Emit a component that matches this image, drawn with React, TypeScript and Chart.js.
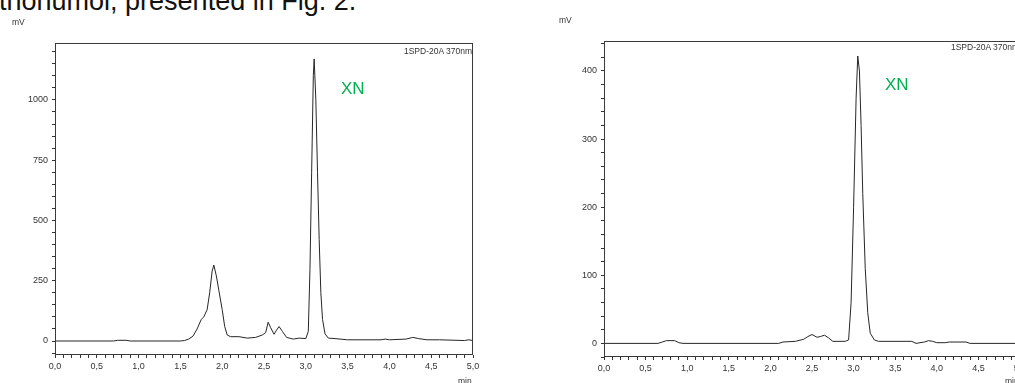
import React, { useEffect, useRef } from 'react';
import { Chart, registerables } from 'chart.js';

Chart.register(...registerables);

// ---- Data ----
const leftTimes = [
  0.0, 0.7, 0.75, 0.85, 0.9, 1.5, 1.55, 1.6, 1.65, 1.7, 1.75, 1.78, 1.82, 1.85, 1.88, 1.9,
  1.93, 1.96, 2.0, 2.03, 2.06, 2.1, 2.2, 2.3, 2.4, 2.48, 2.52, 2.55, 2.58, 2.62, 2.65, 2.68,
  2.72, 2.77, 2.85, 2.92, 3.0, 3.03, 3.05, 3.07, 3.09, 3.1, 3.12, 3.14, 3.16, 3.18, 3.2,
  3.23, 3.27, 3.35, 3.5, 3.9, 3.95, 4.0, 4.2, 4.28, 4.35, 4.45, 4.6, 4.9, 4.95, 5.0,
];
const leftSignal = [
  0, 0, 3, 3, 0, 0, 2, 8, 20, 50, 90, 100, 130, 200, 290, 315,
  270, 210, 130, 60, 25, 18, 18, 12, 15, 25, 35, 78, 55, 28, 45, 60,
  40, 15, 8, 12, 10, 40, 300, 700, 1100, 1170, 1000, 700, 420, 200, 90,
  30, 12, 10, 5, 5, 8, 5, 8, 15, 10, 5, 5, 2, 5, 2,
];

const rightTimes = [
  0.0, 0.65, 0.7, 0.75, 0.85, 0.9, 0.95, 2.1, 2.15, 2.3, 2.4, 2.45, 2.5, 2.56, 2.6, 2.65,
  2.7, 2.75, 2.9, 2.94, 2.97, 3.0, 3.03, 3.05, 3.07, 3.09, 3.11, 3.14, 3.17, 3.2, 3.25,
  3.3, 3.7, 3.75, 3.85, 3.9, 3.95, 4.0, 4.1, 4.15, 4.35, 4.4, 5.0, 5.05,
];
const rightSignal = [
  0, 0, 2, 4, 4, 1, 0, 0, 2, 3, 6, 10, 13, 9, 10, 12,
  8, 3, 3, 5, 60, 200, 360, 422, 400, 320, 220, 110, 45, 15, 5,
  3, 3, 0, 2, 4, 3, 1, 1, 2, 2, 0, 0, 0,
];

const leftYLabels = [0, 250, 500, 750, 1000];
const rightYLabels = [0, 100, 200, 300, 400];
const xTickLabels = ['0,0', '0,5', '1,0', '1,5', '2,0', '2,5', '3,0', '3,5', '4,0', '4,5', '5,0'];
const detectorLabel = '1SPD-20A 370nm';
const peakLabel = 'XN';
const yUnit = 'mV';
const xUnit = 'min';
const captionFragment = 'thohumol, presented in Fig. 2.';

const TICK_FONT = { family: 'Liberation Sans, Arial, sans-serif', size: 9 };
const INK = '#333';

const framePlugin = {
  id: 'frame',
  afterDatasetsDraw(chart: any) {
    const { ctx, chartArea } = chart;
    const l = Math.round(chartArea.left) + 0.5;
    const t = Math.round(chartArea.top) + 0.5;
    const r = Math.round(chartArea.right) - 0.5;
    const b = Math.round(chartArea.bottom) - 0.5;
    ctx.save();
    ctx.strokeStyle = '#3a3a3a';
    ctx.lineWidth = 1;
    ctx.strokeRect(l, t, r - l, b - t);
    ctx.restore();
  },
};

type PanelProps = {
  left: number;
  width: number;
  times: number[];
  values: number[];
  yMin: number;
  yMax: number;
  yStep: number;
  yLabels: number[];
  axisWidth: number;
  padTop: number;
  padRight: number;
  xAxisHeight: number;
};

function Panel(p: PanelProps) {
  const ref = useRef<HTMLCanvasElement | null>(null);
  useEffect(() => {
    if (!ref.current) return;
    const pts = p.times.map((t, i) => ({ x: t, y: p.values[i] }));
    const chart = new Chart(ref.current, {
      type: 'line',
      data: {
        datasets: [
          {
            data: pts,
            borderColor: '#262626',
            borderWidth: 1,
            pointRadius: 0,
            tension: 0,
            fill: false,
          },
        ],
      },
      options: {
        animation: false,
        responsive: false,
        events: [],
        layout: { padding: { top: p.padTop, right: p.padRight, left: 0, bottom: 0 } },
        plugins: { legend: { display: false }, tooltip: { enabled: false }, title: { display: false } },
        scales: {
          x: {
            type: 'linear',
            min: 0,
            max: 5,
            afterFit: (s: any) => {
              s.height = p.xAxisHeight;
            },
            afterBuildTicks: (s: any) => {
              const ticks = [];
              for (let i = 0; i <= 50; i++) ticks.push({ value: i / 10 });
              s.ticks = ticks;
            },
            ticks: {
              autoSkip: false,
              maxRotation: 0,
              minRotation: 0,
              padding: 3,
              color: INK,
              font: TICK_FONT,
              callback: (v: any) => {
                const k = Math.round(Number(v) * 2);
                return Math.abs(Number(v) * 2 - k) < 1e-6 ? xTickLabels[k] : '';
              },
            },
            grid: { drawOnChartArea: false, drawTicks: true, tickLength: 3, color: INK },
            border: { display: false },
          },
          y: {
            type: 'linear',
            min: p.yMin,
            max: p.yMax,
            afterFit: (s: any) => {
              s.width = p.axisWidth;
            },
            afterBuildTicks: (s: any) => {
              const ticks = [];
              const a = Math.ceil(p.yMin / p.yStep);
              const b = Math.floor(p.yMax / p.yStep);
              for (let i = a; i <= b; i++) ticks.push({ value: i * p.yStep });
              s.ticks = ticks;
            },
            ticks: {
              autoSkip: false,
              padding: 4,
              color: INK,
              font: TICK_FONT,
              callback: (v: any) => (p.yLabels.indexOf(Number(v)) >= 0 ? String(v) : ''),
            },
            grid: { drawOnChartArea: false, drawTicks: true, tickLength: 3, color: INK },
            border: { display: false },
          },
        },
      },
      plugins: [framePlugin],
    } as any);
    return () => chart.destroy();
  }, []);
  return (
    <canvas
      ref={ref}
      width={p.width}
      height={383}
      style={{ position: 'absolute', left: p.left, top: 0, width: p.width, height: 383 }}
    />
  );
}

const small: React.CSSProperties = {
  position: 'absolute',
  fontFamily: 'Liberation Sans, Arial, sans-serif',
  fontSize: 8.5,
  lineHeight: '10px',
  color: '#333',
  whiteSpace: 'nowrap',
};

const xn: React.CSSProperties = {
  position: 'absolute',
  fontFamily: 'Liberation Sans, Arial, sans-serif',
  fontSize: 17,
  lineHeight: '18px',
  color: '#00b050',
  whiteSpace: 'nowrap',
};

export default function App() {
  return (
    <div
      style={{
        position: 'fixed',
        left: 0,
        top: 0,
        width: 1015,
        height: 383,
        overflow: 'hidden',
        background: '#fff',
      }}
    >
      <div
        style={{
          position: 'absolute',
          left: -1,
          top: -12,
          fontFamily: 'Liberation Sans, Arial, sans-serif',
          fontSize: 27,
          lineHeight: '27px',
          color: '#111',
          whiteSpace: 'nowrap',
        }}
      >
        {captionFragment}
      </div>

      <Panel
        left={0}
        width={500}
        times={leftTimes}
        values={leftSignal}
        yMin={-58}
        yMax={1236}
        yStep={50}
        yLabels={leftYLabels}
        axisWidth={55}
        padTop={43}
        padRight={27}
        xAxisHeight={28}
      />
      <Panel
        left={500}
        width={530}
        times={rightTimes}
        values={rightSignal}
        yMin={-20}
        yMax={444}
        yStep={20}
        yLabels={rightYLabels}
        axisWidth={104}
        padTop={41}
        padRight={10}
        xAxisHeight={26}
      />

      <div style={{ ...small, left: 12, top: 17 }}>{yUnit}</div>
      <div style={{ ...small, left: 559, top: 15 }}>{yUnit}</div>
      <div style={{ ...small, left: 458, top: 376 }}>{xUnit}</div>
      <div style={{ ...small, left: 1005, top: 376 }}>{xUnit}</div>

      <div style={{ ...small, right: 1015 - 472, top: 46 }}>{detectorLabel}</div>
      <div style={{ ...small, right: 1015 - 1019, top: 42 }}>{detectorLabel}</div>

      <div style={{ ...xn, left: 341, top: 80 }}>{peakLabel}</div>
      <div style={{ ...xn, left: 885, top: 76 }}>{peakLabel}</div>
    </div>
  );
}
